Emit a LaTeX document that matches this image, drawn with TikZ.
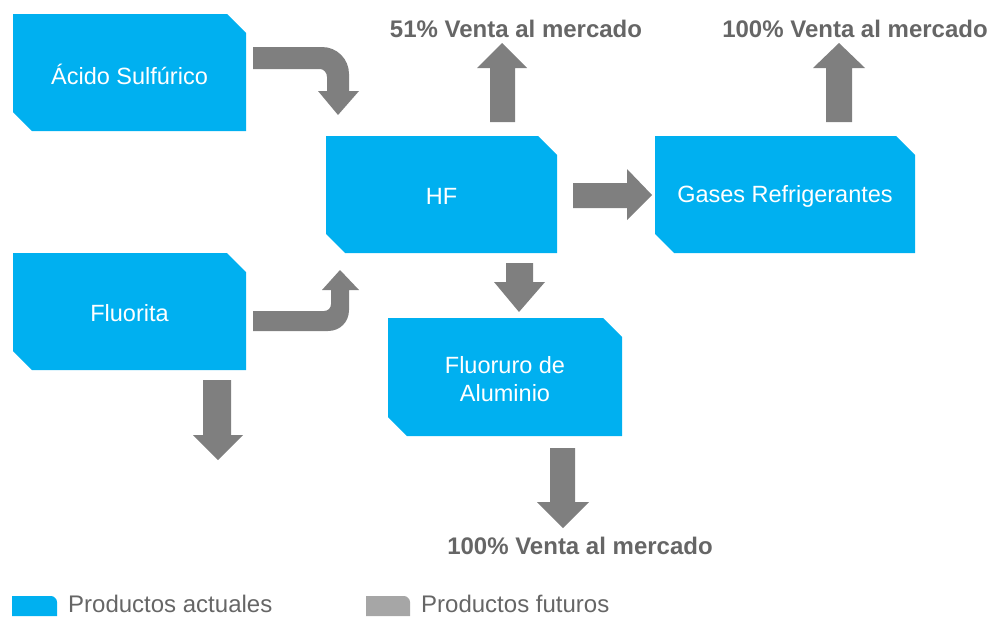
\documentclass[tikz,border=0pt]{standalone}
\usepackage{fontspec}
\setmainfont{Liberation Sans}
\definecolor{boxblue}{HTML}{00B0F0}
\definecolor{arrowgray}{HTML}{7F7F7F}
\definecolor{labelgray}{HTML}{666666}
\definecolor{legendgray}{HTML}{A6A6A6}
\tikzset{
  boxtext/.style={text=white, font=\fontsize{23.5}{26}\selectfont, align=center, inner sep=0pt},
  outlabel/.style={text=labelgray, font=\fontsize{24}{26}\selectfont\bfseries, inner sep=0pt},
  legendtext/.style={text=labelgray, font=\fontsize{24}{26}\selectfont, anchor=west, inner sep=0pt},
  blockarrow/.style={fill=arrowgray},
}
\newcommand\snipbox[6]{%
  \fill[boxblue] (#2,#3) -- ({#4-19},#3) -- (#4,{#3+19}) -- (#4,#5) -- ({#2+19},#5) -- (#2,{#5-19}) -- cycle;
  \node[boxtext, minimum width={#4pt-#2pt}, minimum height={#5pt-#3pt}] (#1) at ({(#2+#4)/2},{(#3+#5)/2+2}) {#6};
}
\begin{document}
\begin{tikzpicture}[x=1pt,y=-1pt]
\useasboundingbox (0,0) rectangle (990,616);
% boxes
\snipbox{acido}{13}{14}{246}{131}{Ácido Sulfúrico}
\snipbox{fluorita}{13}{253}{246}{370}{Fluorita}
\snipbox{hf}{326}{136}{557}{253}{HF}
\snipbox{gases}{655}{136}{915}{253}{Gases Refrigerantes}
\snipbox{fluoruro}{388}{318}{622}{436}{Fluoruro de\\[2pt]Aluminio}
% bent arrow Acido -> HF
\fill[blockarrow] (253,47) -- (322,47) .. controls (337,47) and (349,59) .. (349,74)
  -- (349,91) -- (359,91) -- (338,115) -- (318,91) -- (327,91) -- (327,77)
  .. controls (327,73) and (324,69) .. (320,69) -- (253,69) -- cycle;
% bent arrow Fluorita -> HF
\fill[blockarrow] (253,311) -- (324,311) .. controls (328,311) and (331,308) .. (331,304)
  -- (331,290) -- (322,290) -- (340,270) -- (359,290) -- (349,290) -- (349,310)
  .. controls (349,322) and (340,331) .. (328,331) -- (253,331) -- cycle;
% Fluorita down
\fill[blockarrow] (203,380) -- (231,380) -- (231,435) -- (243,435) -- (218,460) -- (193,435) -- (203,435) -- cycle;
% HF up
\fill[blockarrow] (490,122) -- (515,122) -- (515,68) -- (527,68) -- (502,43) -- (477,68) -- (490,68) -- cycle;
% HF -> Gases
\fill[blockarrow] (573,183) -- (627,183) -- (627,169) -- (652,195) -- (627,220) -- (627,208) -- (573,208) -- cycle;
% HF -> Fluoruro
\fill[blockarrow] (506,263) -- (533,263) -- (533,282) -- (545,282) -- (519,312) -- (494,282) -- (506,282) -- cycle;
% Gases up
\fill[blockarrow] (826,122) -- (852,122) -- (852,68) -- (865,68) -- (839,43) -- (813,68) -- (826,68) -- cycle;
% Fluoruro down
\fill[blockarrow] (550,448) -- (575,448) -- (575,502) -- (589,502) -- (563,528) -- (537,502) -- (550,502) -- cycle;
% labels
\node[outlabel] (lab1) at (516,29) {51\% Venta al mercado};
\node[outlabel] (lab2) at (855,29) {100\% Venta al mercado};
\node[outlabel] (lab3) at (580,546) {100\% Venta al mercado};
% legend
\fill[boxblue] (12,596) -- (51,596) .. controls (54,596) and (57,599) .. (57,602) -- (57,616) -- (12,616) -- cycle;
\node[legendtext] (leg1) at (68,604) {Productos actuales};
\fill[legendgray] (366,596) -- (404,596) .. controls (407,596) and (410,599) .. (410,602) -- (410,616) -- (366,616) -- cycle;
\node[legendtext] (leg2) at (421,604) {Productos futuros};
\end{tikzpicture}
\end{document}
